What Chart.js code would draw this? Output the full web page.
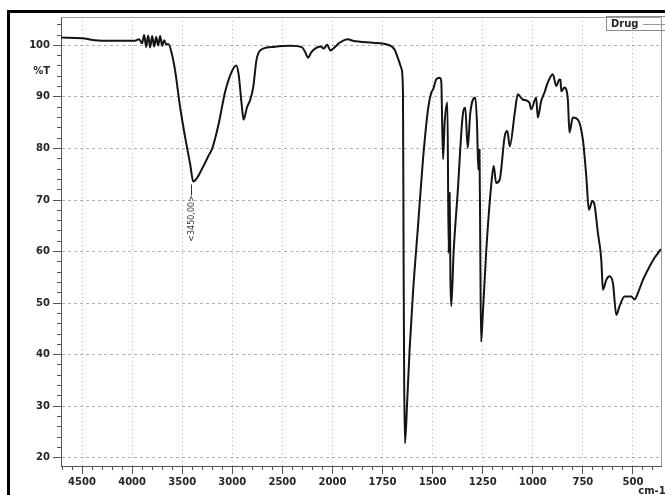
<!DOCTYPE html>
<html>
<head>
<meta charset="utf-8">
<script src="https://cdn.jsdelivr.net/npm/chart.js@4/dist/chart.umd.min.js"></script>
<style>
  html, body { margin: 0; padding: 0; background: #fff; }
  #ir { display: block; }
</style>
</head>
<body>
<canvas id="ir" width="665" height="495"></canvas>
<script>
// FTIR spectrum - %T vs wavenumber (cm-1), scale change at 2000

var seriesName = 'Drug';

var wavenumbers = [
  4710, 4500, 4370, 4200, 3970, 3930, 3900, 3880, 3860, 3840, 3820, 3800, 3780, 3760, 3740, 3720, 3700, 3680, 3660, 3637,
  3603, 3570, 3520, 3470, 3420, 3390, 3290, 3240, 3200, 3137, 3070, 3003, 2960, 2937, 2903, 2887, 2853, 2820, 2790, 2760,
  2737, 2687, 2587, 2420, 2303, 2270, 2243, 2213, 2170, 2120, 2087, 2053, 2020, 1990, 1965, 1923, 1898, 1798, 1732, 1690,
  1672, 1655, 1648, 1645, 1642, 1638, 1628, 1615, 1598, 1573, 1548, 1523, 1507, 1497, 1482, 1465, 1457, 1448, 1440, 1426,
  1420, 1415, 1411, 1407, 1395, 1375, 1350, 1337, 1325, 1312, 1287, 1278, 1272, 1266, 1262, 1258, 1250, 1233, 1208, 1195,
  1183, 1165, 1140, 1127, 1115, 1090, 1075, 1050, 1017, 1008, 983, 975, 958, 942, 925, 900, 883, 867, 862, 858,
  842, 825, 817, 800, 775, 750, 733, 720, 703, 692, 675, 658, 650, 633, 617, 600, 583, 567, 542, 508,
  492, 475, 450, 417, 392, 375, 360
];

var transmittance = [
  101.5, 101.4, 101.0, 100.9, 100.9, 101.2, 100.4, 102.0, 99.7, 101.9, 99.6, 101.8, 99.8, 101.6, 100.0, 101.8, 99.9, 101.0, 100.2, 100.2,
  98.3, 95.0, 87.9, 82.1, 76.9, 73.6, 76.5, 78.5, 80.0, 84.7, 91.1, 95.0, 96.1, 94.4, 87.9, 85.6, 88.0, 89.5, 92.0, 97.0,
  98.6, 99.4, 99.7, 99.9, 99.6, 98.6, 97.6, 98.6, 99.4, 99.8, 99.4, 100.1, 99.0, 99.6, 100.5, 101.2, 100.9, 100.5, 100.2, 99.2,
  97.4, 95.4, 90.8, 60.0, 35.0, 22.8, 30.0, 40.9, 52.0, 64.9, 77.9, 87.6, 90.8, 91.5, 93.4, 93.7, 93.1, 77.9, 85.0, 88.9,
  59.7, 71.4, 54.5, 49.4, 60.0, 71.4, 86.3, 87.9, 80.1, 86.9, 89.9, 84.3, 75.9, 79.8, 60.0, 42.5, 47.4, 59.7, 72.7, 76.6,
  73.3, 74.0, 82.4, 83.4, 80.4, 86.9, 90.5, 89.5, 88.9, 87.6, 89.9, 86.0, 89.2, 90.8, 92.8, 94.4, 92.1, 93.4, 93.3, 91.1,
  91.8, 89.5, 83.1, 86.0, 85.6, 81.7, 74.6, 68.1, 69.8, 69.1, 63.6, 58.4, 52.6, 54.5, 55.2, 53.9, 47.7, 49.4, 51.3, 51.3,
  50.7, 52.0, 54.5, 57.1, 58.8, 59.7, 60.5
];

var xMajorTicks = [4500, 4000, 3500, 3000, 2500, 2000, 1750, 1500, 1250, 1000, 750, 500];
var yMajorTicks = [20, 30, 40, 50, 60, 70, 80, 90, 100];
var yUnitTick = 95;
var yUnitLabel = '%T';
var xUnitLabel = 'cm-1';

var peakWavenumber = 3390;
var peakLabel = '<3450,00>';

var X_MAX = 4710, X_MIN = 360, X_BREAK = 2000;
var Y_MIN = 18.4, Y_MAX = 105.5;

// minor ticks: every 100 above the break, every 50 below
var xTicks = [];
for (var w = 4700; w > X_BREAK; w -= 100) xTicks.push(w);
for (var w2 = X_BREAK; w2 >= 400; w2 -= 50) xTicks.push(w2);
xMajorTicks.forEach(function(v) { if (xTicks.indexOf(v) < 0) xTicks.push(v); });

var yTicks = [];
for (var v = 20; v <= 104; v += 2) {
  yTicks.push(v);
  if (v === 94) yTicks.push(yUnitTick);
}

function toU(wn) {
  return wn >= X_BREAK ? (X_MAX - wn) : (X_MAX - X_BREAK) + (X_BREAK - wn) * 2;
}
function fromU(u) {
  var s = X_MAX - X_BREAK;
  return u <= s ? X_MAX - u : X_BREAK - (u - s) / 2;
}
var U_TOTAL = toU(X_MIN);

// linear scale with the usual IR compression above 2000 cm-1
class IrScale extends Chart.LinearScale {
  buildTicks() {
    return xTicks.map(function(t) { return { value: t }; });
  }
  getPixelForValue(value) {
    return this.getPixelForDecimal(toU(value) / U_TOTAL);
  }
  getValueForPixel(pixel) {
    return fromU(this.getDecimalForPixel(pixel) * U_TOTAL);
  }
}
IrScale.id = 'irScale';
IrScale.defaults = {};
Chart.register(IrScale);

var gridColor = 'rgba(0,0,0,0.3)';
var axisColor = '#555555';
var textColor = '#262626';
var tickFont = { family: 'DejaVu Sans', size: 10, weight: 'bold' };

function isMajorX(ctx) { return ctx.tick && xMajorTicks.indexOf(ctx.tick.value) >= 0; }
function isMajorY(ctx) { return ctx.tick && yMajorTicks.indexOf(ctx.tick.value) >= 0; }

var decorations = {
  id: 'decorations',
  afterDraw: function(chart) {
    var ctx = chart.ctx;
    var area = chart.chartArea;
    var xs = chart.scales.x, ys = chart.scales.y;
    ctx.save();

    // outer frame of the scan
    ctx.fillStyle = '#000';
    ctx.fillRect(7, 10, 658, 3);
    ctx.fillRect(7, 10, 3, 485);

    // top and right edge of the plot
    ctx.strokeStyle = '#9a9a9a';
    ctx.lineWidth = 1;
    ctx.beginPath();
    ctx.moveTo(area.left, area.top + 0.5);
    ctx.lineTo(area.right + 0.5, area.top + 0.5);
    ctx.lineTo(area.right + 0.5, area.bottom);
    ctx.stroke();

    // peak marker
    var idx = wavenumbers.indexOf(peakWavenumber);
    var px = Math.round(xs.getPixelForValue(peakWavenumber)) - 1.5;
    var py = ys.getPixelForValue(transmittance[idx]);
    ctx.strokeStyle = '#333';
    ctx.beginPath();
    ctx.moveTo(px, py + 3);
    ctx.lineTo(px, py + 14);
    ctx.stroke();
    ctx.translate(px, py + 37);
    ctx.rotate(-Math.PI / 2);
    ctx.fillStyle = '#333';
    ctx.font = '8px "DejaVu Sans"';
    ctx.textAlign = 'center';
    ctx.textBaseline = 'middle';
    ctx.fillText(peakLabel, 0, 0);
    ctx.setTransform(1, 0, 0, 1, 0, 0);

    // legend box
    ctx.strokeStyle = '#8a8a8a';
    ctx.strokeRect(606.5, 16.5, 62, 14);
    ctx.fillStyle = textColor;
    ctx.font = 'bold 10px "DejaVu Sans"';
    ctx.textAlign = 'left';
    ctx.textBaseline = 'middle';
    ctx.fillText(chart.data.datasets[0].label, 611, 24);
    ctx.strokeStyle = '#9a9a9a';
    ctx.beginPath();
    ctx.moveTo(643, 24.5);
    ctx.lineTo(665, 24.5);
    ctx.stroke();

    // unit under the x axis, below the last label
    ctx.fillStyle = textColor;
    ctx.textAlign = 'center';
    ctx.textBaseline = 'alphabetic';
    ctx.fillText(xUnitLabel, 652, 494);
    ctx.restore();
  }
};

var points = wavenumbers.map(function(wn, i) { return { x: wn, y: transmittance[i] }; });

new Chart(document.getElementById('ir'), {
  type: 'line',
  data: {
    datasets: [{
      label: seriesName,
      data: points,
      borderColor: '#141414',
      borderWidth: 2,
      pointRadius: 0,
      cubicInterpolationMode: 'monotone',
      borderJoinStyle: 'round',
      fill: false
    }]
  },
  options: {
    responsive: false,
    animation: false,
    devicePixelRatio: 1,
    layout: { padding: { top: 17, right: 4, left: 0, bottom: 0 } },
    plugins: {
      legend: { display: false },
      tooltip: { enabled: false }
    },
    scales: {
      x: {
        type: 'irScale',
        min: X_MIN,
        max: X_MAX,
        afterFit: function(scale) { scale.height = 29; },
        grid: {
          color: function(ctx) { return isMajorX(ctx) ? gridColor : 'transparent'; },
          tickColor: axisColor,
          tickLength: 8,
          tickBorderDash: function(ctx) { return isMajorX(ctx) ? [] : [3, 20]; }
        },
        border: { color: axisColor, width: 1, dash: [1, 3] },
        ticks: {
          autoSkip: false,
          maxRotation: 0,
          padding: 2,
          color: textColor,
          font: tickFont,
          callback: function(value) { return xMajorTicks.indexOf(value) >= 0 ? String(value) : ''; }
        }
      },
      y: {
        type: 'linear',
        min: Y_MIN,
        max: Y_MAX,
        afterFit: function(scale) { scale.width = 61; },
        afterBuildTicks: function(scale) {
          scale.ticks = yTicks.map(function(t) { return { value: t }; });
        },
        grid: {
          color: function(ctx) { return isMajorY(ctx) ? gridColor : 'transparent'; },
          tickColor: function(ctx) { return ctx.tick && ctx.tick.value === yUnitTick ? 'transparent' : axisColor; },
          tickLength: 8,
          tickBorderDash: function(ctx) { return isMajorY(ctx) ? [] : [0, 4, 4, 0]; }
        },
        border: { color: axisColor, width: 1, dash: [3, 3] },
        ticks: {
          autoSkip: false,
          padding: 3,
          color: textColor,
          font: tickFont,
          callback: function(value) {
            if (value === yUnitTick) return yUnitLabel;
            return yMajorTicks.indexOf(value) >= 0 ? String(value) : '';
          }
        }
      }
    }
  },
  plugins: [decorations]
});
</script>
</body>
</html>
